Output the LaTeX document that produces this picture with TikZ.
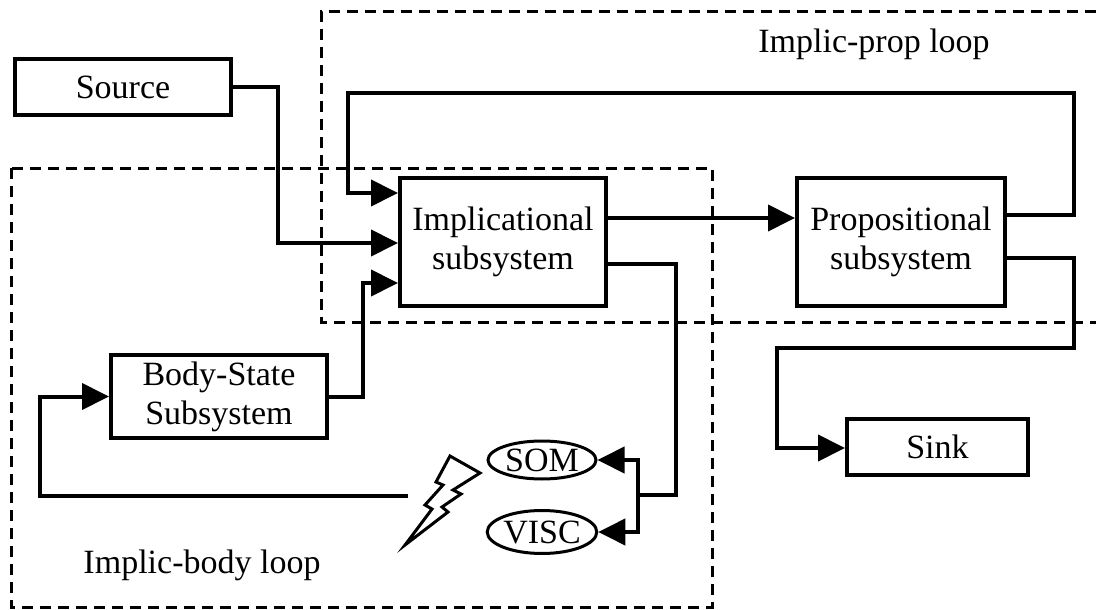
\documentclass[tikz,border=0pt]{standalone}
\usepackage{fontspec}
\setmainfont{Liberation Serif}
\usetikzlibrary{arrows.meta,shapes.geometric}
\begin{document}
\begin{tikzpicture}[x=1pt,y=-1pt,
  txt/.style={font=\fontsize{34}{39}\selectfont},
  box/.style={draw,line width=4pt,fill=white,inner sep=0pt,align=center,txt},
  oval/.style={draw,ellipse,line width=3pt,fill=white,inner sep=0pt,minimum width=108pt,txt},
  conn/.style={line width=4pt,line join=miter},
  arr/.style={conn,-{Triangle[length=27pt,width=26pt]}},
  loopbox/.style={line width=3pt,dash pattern=on 11pt off 7pt},
  lbl/.style={anchor=base,inner sep=0pt,txt},
  bolt/.style={line width=3pt,line join=miter,fill=white}]
\useasboundingbox (0,0) rectangle (1096,610);

% dashed loop regions
\draw[loopbox] (1096,12) -- (321,12) -- (321,322) -- (1096,322);
\draw[loopbox] (11,168) rectangle (712,607);
\node[lbl] (lprop) at (874,53) {Implic-prop loop};
\node[lbl] (lbody) at (202,573) {Implic-body loop};

% boxes
\node[box,minimum width=216pt,minimum height=56pt] (source) at (123,87) {Source};
\node[box,minimum width=206pt,minimum height=128pt] (impl) at (503,242) {Implicational\\subsystem};
\node[box,minimum width=208pt,minimum height=128pt] (prop) at (901,242) {Propositional\\subsystem};
\node[box,minimum width=216pt,minimum height=83pt] (body) at (219,396.5) {Body-State\\Subsystem};
\node[box,minimum width=181pt,minimum height=56pt] (sink) at (937.5,447) {Sink};
\node[oval,minimum height=38pt] (som) at (542,460) {SOM};
\node[oval,minimum height=43pt] (visc) at (542,532) {VISC};

% connectors
\draw[arr] (source.east) -| (278,243) -- (impl.west |- 0,243);
\draw[arr] (prop.east |- 0,215) -- (1074,215) -- (1074,93) -- (348,93) -- (348,193) -- (impl.west |- 0,193);
\draw[arr] (body.east) -| (363,283) -- (impl.west |- 0,283);
\draw[arr] (impl.east |- 0,218) -- (prop.west |- 0,218);
\coordinate (split) at (638,495);
\draw[conn] (impl.east |- 0,264) -- (676,264) -- (676,495) -- (split);
\draw[arr] (split) |- (som.east);
\draw[arr] (split) |- (visc.east);
\draw[arr] (prop.east |- 0,258) -- (1074,258) -- (1074,348) -- (777,348) -- (777,448) -- (sink.west |- 0,448);
\coordinate (fbend) at (408,496);
\draw[arr] (fbend) -- (40,496) -- (40,396.5) -- (body.west);

% lightning bolt
\draw[bolt] (450,456) -- (480,473) -- (453,490) -- (461,494) -- (442,507) -- (448,512)
  -- (405,545) -- (432,509) -- (425,505) -- (443,485) -- (436,482) -- cycle;
\end{tikzpicture}
\end{document}
